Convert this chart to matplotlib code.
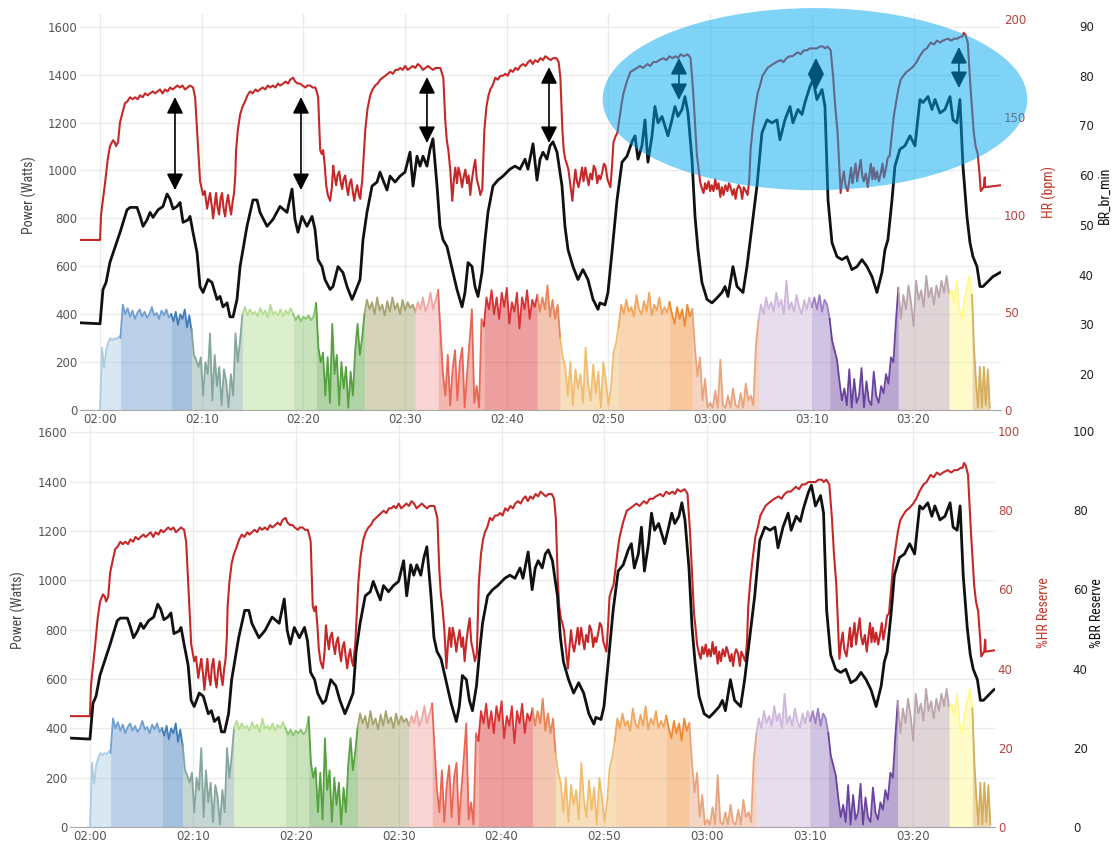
import numpy as np
import matplotlib
matplotlib.use("Agg")
import matplotlib.pyplot as plt
from matplotlib.patches import Ellipse
from matplotlib import font_manager

# ------------------------------------------------------------------ data
# time axis: minutes after 02:00
tick_minutes = [0, 10, 20, 30, 40, 50, 60, 70, 80]
tick_labels = ["02:00", "02:10", "02:20", "02:30", "02:40", "02:50", "03:00", "03:10", "03:20"]

# interval boundaries (minutes) for the coloured power segments
seg_bounds = [0.0, 2.0, 7.0, 9.0, 14.0, 19.0, 21.25, 26.0, 31.0, 33.25, 37.75, 43.0,
              45.25, 51.0, 56.0, 58.25, 64.75, 70.0, 71.75, 78.5, 83.5, 85.75, 87.5]
seg_colors = ["#a9cbe3", "#6b9bd0", "#3a77b5", "#7fa39a", "#b3dc8e", "#86c06a", "#4f9e38",
              "#a2a068", "#f0a3a0", "#e8604f", "#d9282a", "#e88050", "#f1ba68", "#f2a255",
              "#f08526", "#e8a078", "#cbb4d8", "#9a7ac2", "#643c9c", "#b8a2a8", "#fff98a",
              "#d4aa55"]

# power (W) per interval
p01 = [0, 260, 175, 250, 280, 300, 290, 300, 295, 305, 310]
p02 = [300, 440, 400, 425, 390, 415, 380, 405, 420, 390, 410, 385, 400, 430, 395, 405, 380,
       415, 395, 420, 385, 400]
p03 = [400, 370, 410, 355, 400, 380, 420, 345, 395, 330]
p04 = [340, 230, 210, 180, 220, 60, 200, 150, 320, 40, 230, 100, 180, 20, 170, 120, 10, 150,
       60, 320, 200, 290, 400]
p05 = [400, 430, 395, 420, 400, 410, 390, 425, 400, 415, 385, 440, 400, 410, 395, 420, 390,
       415, 400, 425, 400]
p06 = [400, 375, 395, 370, 390, 380, 395, 375, 390, 445]
p07 = [445, 260, 200, 240, 60, 220, 30, 360, 150, 230, 20, 200, 90, 180, 10, 160, 60, 250,
       360, 230, 300, 400]
p08 = [400, 460, 420, 450, 400, 470, 415, 440, 395, 455, 410, 470, 420, 445, 400, 460, 415,
       450, 425, 440, 410]
p09 = [410, 450, 420, 470, 410, 440, 490, 420, 460, 500]
p10 = [500, 320, 150, 60, 230, 20, 170, 250, 40, 200, 260, 10, 150, 280, 420, 30, 100, 10,
       380, 350]
p11 = [350, 470, 420, 500, 400, 470, 380, 490, 430, 510, 360, 450, 410, 490, 340, 470, 420,
       500, 380, 460, 430, 480]
p12 = [480, 410, 470, 420, 520, 390, 460, 380, 440, 300]
p13 = [300, 220, 180, 60, 200, 20, 170, 90, 150, 30, 260, 110, 40, 190, 70, 160, 10, 200,
       120, 20, 100, 240, 280, 350]
p14 = [350, 440, 400, 460, 410, 430, 390, 480, 420, 400, 455, 410, 490, 395, 440, 415, 470,
       400, 430, 405, 450]
p15 = [450, 400, 360, 430, 380, 420, 350, 440, 390, 420]
p16 = [420, 260, 140, 220, 40, 130, 10, 30, 10, 80, 10, 210, 20, 10, 60, 10, 90, 20, 10, 70,
       10, 110, 40, 60, 20, 270, 375]
p17 = [375, 440, 400, 470, 420, 450, 410, 490, 430, 460, 400, 540, 420, 450, 410, 480, 430,
       400, 460, 420, 470, 430]
p18 = [430, 470, 420, 480, 410, 460, 440, 380]
p19 = [380, 290, 250, 210, 120, 40, 90, 20, 170, 10, 130, 30, 60, 175, 10, 120, 40, 20, 160,
       60, 30, 100, 70, 150, 110, 220, 200, 365, 510]
p20 = [510, 380, 480, 420, 520, 450, 350, 540, 460, 500, 430, 560, 470, 510, 440, 520, 470,
       540, 490, 560, 480]
p21 = [480, 500, 450, 540, 420, 380, 460, 510, 560, 480]
p22 = [480, 260, 120, 10, 180, 10, 180, 20, 170, 10]
power_intervals = [p01, p02, p03, p04, p05, p06, p07, p08, p09, p10, p11, p12, p13, p14,
                   p15, p16, p17, p18, p19, p20, p21, p22]

# heart rate (bpm)
hr_t = [-1.97, 0.0, 0.1, 0.49, 0.75, 0.98, 1.27, 1.45, 1.57, 1.77, 1.96, 2.2, 2.46, 2.7, 2.95,
        3.2, 3.44, 3.7, 3.93, 4.2, 4.42, 4.7, 4.92, 5.2, 5.41, 5.65, 5.9, 6.15, 6.39, 6.65,
        6.89, 7.15, 7.38, 7.6, 7.87, 8.1, 8.36, 8.6, 8.85, 9.15, 9.35, 9.54, 9.7, 9.84, 10.13,
        10.3, 10.53, 10.7, 10.82, 11.0, 11.12, 11.3, 11.41, 11.55, 11.71, 11.85, 12.0, 12.15,
        12.3, 12.45, 12.59, 12.75, 12.89, 13.05, 13.18, 13.3, 13.38, 13.55, 13.77, 14.0, 14.27,
        14.5, 14.76, 15.0, 15.3, 15.5, 15.74, 16.0, 16.25, 16.5, 16.73, 17.0, 17.25, 17.5,
        17.71, 18.0, 18.25, 18.5, 18.7, 18.99, 19.2, 19.45, 19.68, 19.9, 20.2, 20.4, 20.66,
        20.9, 21.16, 21.3, 21.45, 21.65, 21.8, 21.94, 22.1, 22.24, 22.4, 22.63, 22.8, 22.93,
        23.05, 23.22, 23.35, 23.52, 23.65, 23.81, 23.95, 24.11, 24.25, 24.4, 24.55, 24.7,
        24.85, 25.0, 25.15, 25.29, 25.45, 25.59, 25.7, 25.78, 26.08, 26.3, 26.57, 26.8, 27.06,
        27.3, 27.55, 27.8, 28.05, 28.3, 28.54, 28.8, 29.05, 29.3, 29.52, 29.75, 30.0, 30.25,
        30.51, 30.75, 31.0, 31.25, 31.49, 31.75, 32.0, 32.25, 32.48, 32.75, 33.0, 33.25, 33.46,
        33.76, 33.95, 34.1, 34.25, 34.44, 34.64, 34.8, 34.94, 35.1, 35.25, 35.43, 35.6, 35.75,
        35.92, 36.1, 36.25, 36.41, 36.55, 36.75, 36.9, 37.05, 37.25, 37.4, 37.59, 37.79, 38.0,
        38.2, 38.38, 38.6, 38.87, 39.1, 39.37, 39.6, 39.85, 40.1, 40.35, 40.6, 40.85, 41.1,
        41.33, 41.6, 41.85, 42.1, 42.32, 42.55, 42.8, 43.05, 43.3, 43.55, 43.79, 44.05, 44.3,
        44.55, 44.88, 45.1, 45.27, 45.47, 45.6, 45.76, 45.9, 46.06, 46.25, 46.45, 46.6, 46.75,
        46.9, 47.05, 47.24, 47.4, 47.55, 47.73, 47.9, 48.05, 48.22, 48.4, 48.55, 48.72, 48.9,
        49.05, 49.21, 49.4, 49.55, 49.7, 49.9, 50.05, 50.19, 50.35, 50.49, 50.7, 50.88, 51.1,
        51.3, 51.47, 51.8, 52.16, 52.5, 52.8, 53.1, 53.4, 53.83, 54.1, 54.4, 54.7, 55.0, 55.41,
        55.7, 56.0, 56.3, 56.6, 56.85, 57.08, 57.4, 57.77, 57.95, 58.07, 58.3, 58.56, 58.7,
        58.85, 59.0, 59.2, 59.35, 59.5, 59.65, 59.84, 60.0, 60.15, 60.33, 60.5, 60.65, 60.82,
        61.0, 61.15, 61.31, 61.5, 61.7, 61.85, 62.0, 62.2, 62.35, 62.5, 62.65, 62.8, 62.99,
        63.15, 63.3, 63.5, 63.68, 63.85, 63.97, 64.2, 64.4, 64.66, 64.9, 65.15, 65.4, 65.64,
        65.9, 66.2, 66.5, 66.92, 67.2, 67.5, 67.8, 68.1, 68.35, 68.6, 68.9, 69.2, 69.5, 69.8,
        70.17, 70.5, 70.8, 71.1, 71.3, 71.55, 71.85, 72.1, 72.3, 72.53, 72.7, 72.83, 73.0,
        73.15, 73.3, 73.52, 73.7, 73.85, 74.0, 74.11, 74.3, 74.45, 74.6, 74.8, 74.95, 75.1,
        75.3, 75.49, 75.65, 75.8, 75.95, 76.08, 76.25, 76.4, 76.6, 76.77, 76.95, 77.1, 77.3,
        77.46, 77.65, 77.85, 78.05, 78.3, 78.5, 78.74, 79.0, 79.3, 79.6, 80.01, 80.3, 80.6,
        81.0, 81.3, 81.69, 82.0, 82.3, 82.6, 82.9, 83.36, 83.7, 84.0, 84.3, 84.64, 84.8, 84.94,
        85.1, 85.33, 85.6, 85.92, 86.1, 86.31, 86.5, 86.61, 86.75, 86.9, 87.0, 87.05, 88.6]
hr_bpm = [87, 87, 100, 116, 128, 135, 138, 137, 135, 137, 147, 152, 157, 158, 160,
          159, 160, 159, 161, 160, 162, 161, 162, 163, 162, 163, 164, 162, 164, 163,
          165, 164, 165, 166, 165, 166, 164, 165, 166, 165, 160, 143, 128, 117, 110,
          112, 103, 108, 111, 104, 98, 106, 111, 104, 100, 108, 111, 103,
          99, 106, 110, 104, 100, 107, 111, 120, 133, 143, 151, 155, 158,
          161, 163, 162, 164, 163, 164, 165, 164, 166, 165, 166, 165, 167,
          166, 167, 168, 167, 169, 170, 168, 167, 167, 166, 165, 166, 166,
          165, 165, 163, 160, 133, 131, 133, 125, 115, 110, 107, 114, 125,
          120, 115, 120, 122, 117, 113, 118, 120, 114, 110, 116, 118,
          112, 107, 112, 115, 110, 108, 114, 117, 143, 154, 161, 164, 166,
          167, 169, 170, 171, 172, 173, 172, 174, 174, 175, 174, 176, 174,
          175, 176, 175, 177, 176, 174, 175, 176, 175, 174, 175, 175, 175,
          170, 148, 138, 133, 123, 107, 118, 124, 116, 124, 120, 114, 119,
          123, 116, 120, 110, 117, 124, 128, 118, 114, 110, 113, 143, 155,
          161, 164, 166, 170, 169, 171, 171, 172, 171, 174, 173, 175, 174,
          176, 177, 176, 178, 179, 177, 179, 178, 180, 179, 181, 180, 179,
          180, 180, 178, 170, 143, 133, 128, 126, 123, 115, 107, 116, 123,
          117, 114, 119, 124, 117, 124, 119, 115, 121, 118, 125, 123, 116,
          120, 118, 122, 126, 125, 118, 116, 114, 125, 137, 140, 142, 150,
          157, 162, 168, 173, 174, 175, 176, 175, 177, 176, 178, 178, 179, 180,
          179, 181, 180, 181, 180, 182, 181, 182, 181, 180, 165, 142, 130,
          124, 117, 113, 111, 116, 113, 117, 112, 115, 112, 118, 113, 116,
          109, 114, 110, 115, 112, 116, 114, 110, 113, 108, 113, 115, 113,
          108, 114, 112, 110, 118, 133, 145, 153, 162, 166, 171, 173, 175,
          176, 177, 178, 179, 178, 180, 181, 181, 182, 183, 182, 184, 184, 185,
          185, 185, 186, 186, 185, 186, 184, 170, 155, 142, 125, 111, 118,
          122, 115, 112, 118, 124, 116, 120, 126, 117, 122, 128, 120, 117,
          121, 114, 120, 126, 118, 124, 118, 122, 117, 121, 126, 119, 124,
          129, 130, 140, 150, 158, 164, 169, 171, 173, 174, 176, 178, 181,
          184, 185, 188, 187, 189, 188, 189, 190, 189, 190, 190, 191, 191, 193,
          192, 188, 165, 142, 135, 131, 120, 112, 113, 114, 119, 114, 115]

# breathing rate (breaths/min)
br_t = [-1.97, 0.0, 0.29, 0.59, 0.98, 1.47, 1.97, 2.65, 2.95, 3.64, 3.93, 4.23, 4.62, 4.92,
        5.21, 5.70, 6.19, 6.59, 6.88, 7.18, 7.57, 7.87, 8.16, 8.65, 8.85, 9.14, 9.54, 9.83,
        10.13, 10.62, 11.01, 11.50, 11.80, 12.09, 12.49, 12.78, 13.08, 13.47, 13.77, 14.45,
        15.04, 15.44, 15.73, 16.42, 17.01, 17.70, 18.39, 18.88, 19.17, 19.47, 19.86, 20.35,
        20.85, 21.14, 21.44, 21.83, 22.12, 22.62, 22.91, 23.40, 23.89, 24.29, 24.78, 25.07,
        25.57, 25.86, 26.25, 26.75, 27.24, 27.53, 27.83, 28.22, 28.52, 29.01, 29.50, 29.99,
        30.48, 30.78, 31.17, 31.47, 31.76, 32.15, 32.45, 32.74, 33.14, 33.43, 33.73, 34.12,
        34.42, 34.71, 35.10, 35.60, 35.89, 36.19, 36.58, 36.87, 37.17, 37.56, 37.86, 38.15,
        38.64, 39.13, 39.63, 40.31, 40.81, 41.30, 41.79, 42.08, 42.58, 42.97, 43.27, 43.56,
        43.95, 44.25, 44.54, 44.94, 45.43, 45.72, 46.02, 46.51, 47.00, 47.49, 47.98, 48.48,
        48.97, 49.16, 49.66, 49.95, 50.34, 50.84, 51.33, 51.82, 52.31, 52.61, 52.90, 53.29,
        53.59, 53.88, 54.28, 54.57, 54.87, 55.26, 55.56, 55.85, 56.24, 56.54, 56.83, 57.23,
        57.52, 57.82, 58.21, 58.51, 58.80, 59.19, 59.69, 60.18, 60.67, 61.16, 61.46, 61.75,
        62.24, 62.64, 62.93, 63.23, 63.62, 64.11, 64.60, 65.09, 65.59, 66.08, 66.57, 66.86,
        67.35, 67.85, 68.14, 68.63, 69.03, 69.32, 69.81, 70.11, 70.50, 71.00, 71.29, 71.59,
        71.98, 72.47, 72.96, 73.45, 73.94, 74.44, 74.93, 75.42, 75.91, 76.40, 76.89, 77.19,
        77.48, 77.88, 78.17, 78.66, 79.15, 79.65, 80.14, 80.63, 80.93, 81.42, 81.81, 82.11,
        82.60, 83.09, 83.58, 83.88, 84.27, 84.56, 84.86, 85.25, 85.55, 85.84, 86.24, 86.53,
        86.83, 87.81, 88.50]
br_rate = [30.3, 30.1, 37, 38.4, 42.5, 45.5, 48.5, 53, 53.5, 53.5, 51.8, 49.7, 51, 52.5,
           51.5, 53, 53.7, 56.2, 55.2, 53.2, 53.7, 54.5, 50.5, 51, 51.7, 48.5, 44.4, 37.6,
           36.4, 39, 38.4, 35, 35.6, 33.5, 34.3, 31.5, 31.5, 35, 41.6, 49.7,
           55, 55, 52.5, 49.7, 51.1, 53.7, 52.5, 57.2, 51.1, 48.5, 51.7, 49.7,
           51.7, 49.1, 43, 41.6, 39, 37, 37.6, 41.6, 40.4, 37.6, 35, 36.4,
           39, 47, 52.5, 57.8, 58.6, 60.6, 59, 57, 59.8, 58.6, 59.8, 60.6,
           64.6, 57.8, 63.8, 61.8, 63.8, 61.8, 65.2, 67.3, 57.8, 49.7, 47, 45.6,
           43, 40.4, 37, 33.5, 36.4, 42.4, 41.6, 37.6, 35.6, 40.4, 47, 52.5,
           57.8, 59, 59.8, 61.2, 61.8, 61.2, 63.2, 61.2, 66.3, 59, 63.2, 64.6,
           63.2, 65.9, 66.7, 64.6, 57.8, 49.7, 45, 41.6, 39, 41, 39, 35,
           33, 34.3, 33.9, 36.4, 44.4, 55, 62.6, 63.8, 66.7, 67.9, 63.2, 65.9,
           71.1, 62.6, 67.9, 73.8, 70.5, 71.8, 69.8, 67.9, 71.1, 73.8, 71.8, 73.2,
           75.8, 72.5, 63.2, 51.7, 45, 38.4, 35, 34.3, 35.3, 36.4, 37.6, 35.6,
           41.6, 37.6, 37, 36.4, 41.6, 49.7, 57.8, 68.5, 71.1, 70.5, 71.1, 67.1,
           71.1, 73.8, 70.5, 73.2, 72.2, 74.6, 77.8, 79.2, 75.2, 77.2, 73.8, 55,
           46.4, 43.6, 43, 43.6, 41, 41.6, 43, 41.6, 39.6, 36.4, 40.4, 45,
           47, 55, 61.8, 65.2, 65.9, 67.9, 65.9, 75.2, 74.6, 75.8, 73.2, 75.2,
           72.5, 73.2, 75.8, 71.1, 70.5, 75.2, 61.8, 51.7, 46.4, 43.6, 41.6, 37.6,
           37.6, 39.6, 40.4]

# reserve reference values used for the lower panel
HR_REST, HR_MAX = 40.6, 206.4
BR_REST, BR_MAX = 13.1, 89.7

# annotations (top panel): double arrows in (minute, bpm) and highlight ellipse
arrow_t = [7.37, 19.76, 32.15, 44.15, 56.93, 70.4, 84.46]
arrow_hr_top = [160.1, 160.1, 170.3, 175.4, 180.1, 180.1, 185.7]
arrow_hr_bot = [112.5, 112.5, 136.6, 136.6, 158.6, 163.7, 164.7]
ELLIPSE = dict(cx=0.798, cy=0.785, w=0.461, h=0.46)

# ------------------------------------------------------------------ style
names = {f.name for f in font_manager.fontManager.ttflist}
NARROW_FAMILY = None
for cand in ["Liberation Sans Narrow", "DejaVu Sans Condensed", "Roboto Condensed",
             "Noto Sans Condensed"]:
    if cand in names:
        NARROW_FAMILY = cand
        break
if NARROW_FAMILY is None:
    LABEL_FONT = dict(family="Liberation Sans", fontsize=9, fontweight="normal")
else:
    LABEL_FONT = dict(family=NARROW_FAMILY, fontsize=10, fontweight="normal")
plt.rcParams["font.family"] = ["DejaVu Sans"]

RED = "#c62828"
RED_TXT = "#b5443f"
GRAY_TXT = "#555555"
GRID = "#ebebeb"

W, H = 1113, 841
fig = plt.figure(figsize=(W / 100, H / 100), dpi=100)


def fx(px):
    return px / W


def fy(py):
    return 1 - py / H


def panel(rect, xlim, plim, hr_vals, hr_lim, hr_ticks, br_vals, br_lim, br_ticks):
    ax = fig.add_axes(rect)
    ax.set_xlim(*xlim)
    ax.set_ylim(*plim)
    for s in ax.spines.values():
        s.set_visible(False)
    ax.spines["bottom"].set_visible(True)
    ax.spines["bottom"].set_color("#a8a8a8")
    ax.set_xticks(tick_minutes)
    ax.set_xticklabels(tick_labels)
    ax.set_yticks(range(0, 1601, 200))
    ax.tick_params(axis="both", length=0, labelsize=8.5, labelcolor=GRAY_TXT)
    ax.tick_params(axis="x", pad=2)
    ax.tick_params(axis="y", pad=2)
    ax.grid(True, color=GRID, lw=1)
    ax.set_axisbelow(True)

    for i, vals in enumerate(power_intervals):
        t = np.linspace(seg_bounds[i], seg_bounds[i + 1], len(vals))
        ax.fill_between(t, 0, vals, color=seg_colors[i], alpha=0.45, lw=0, zorder=2)
        ax.plot(t, vals, color=seg_colors[i], lw=1.3, alpha=0.95, zorder=3)

    ax2 = ax.twinx()
    ax2.set_ylim(*hr_lim)
    ax2.set_yticks(hr_ticks)
    for s in ax2.spines.values():
        s.set_visible(False)
    ax2.tick_params(axis="y", length=0, labelsize=8.5, labelcolor=RED_TXT, pad=2)
    ax2.plot(hr_t, hr_vals, color=RED, lw=1.5, zorder=3)

    ax3 = ax.twinx()
    ax3.set_ylim(*br_lim)
    ax3.set_yticks(br_ticks)
    for s in ax3.spines.values():
        s.set_visible(False)
    ax3.spines["right"].set_position(("outward", 52))
    ax3.tick_params(axis="y", length=0, labelsize=8.5, labelcolor="#222222", pad=4)
    ax3.plot(br_t, br_vals, color="#111111", lw=2.0, zorder=3)
    return ax, ax2, ax3


# ---- top panel
top_rect = [fx(80), fy(410), fx(1001) - fx(80), fy(14) - fy(410)]
ax, ax2, ax3 = panel(top_rect, (-1.97, 88.6), (0, 1653), hr_bpm, (0, 202.6),
                     [0, 50, 100, 150, 200], br_rate, (12.76, 92.4),
                     [20, 30, 40, 50, 60, 70, 80, 90])

for t, a, b in zip(arrow_t, arrow_hr_top, arrow_hr_bot):
    ax3.annotate("", xy=(t, a), xytext=(t, b), xycoords=ax2.transData,
                 textcoords=ax2.transData,
                 arrowprops=dict(arrowstyle="<|-|>,head_length=0.5,head_width=0.25",
                                 mutation_scale=20, lw=1.2, color="black",
                                 shrinkA=0, shrinkB=0), zorder=5)
ax3.add_patch(Ellipse((ELLIPSE["cx"], ELLIPSE["cy"]), ELLIPSE["w"], ELLIPSE["h"],
                      transform=ax3.transAxes, facecolor="#00a8ee", alpha=0.5, lw=0,
                      clip_on=False, zorder=6))

fig.text(fx(29), fy(195), "Power (Watts)", rotation=90, ha="center", va="center",
         color="#444444", **LABEL_FONT)
fig.text(fx(1049), fy(192), "HR (bpm)", rotation=90, ha="center", va="center",
         color="#c0392b", **LABEL_FONT)
fig.text(fx(1105), fy(195), "BR_br_min", rotation=90, ha="center", va="center",
         color="#111111", **LABEL_FONT)

# ---- bottom panel
hr_reserve = (np.array(hr_bpm) - HR_REST) / (HR_MAX - HR_REST) * 100
br_reserve = (np.array(br_rate) - BR_REST) / (BR_MAX - BR_REST) * 100
bot_rect = [fx(70), fy(827), fx(995) - fx(70), fy(425) - fy(827)]
bx, bx2, bx3 = panel(bot_rect, (-1.94, 87.95), (0, 1629), hr_reserve, (0, 101.5),
                     [0, 20, 40, 60, 80, 100], br_reserve, (0, 101.5),
                     [0, 20, 40, 60, 80, 100])

fig.text(fx(18), fy(610), "Power (Watts)", rotation=90, ha="center", va="center",
         color="#444444", **LABEL_FONT)
fig.text(fx(1044), fy(613), "%HR Reserve", rotation=90, ha="center", va="center",
         color="#c0392b", **LABEL_FONT)
fig.text(fx(1097), fy(613), "%BR Reserve", rotation=90, ha="center", va="center",
         color="#111111", **LABEL_FONT)

fig.savefig("out.png", dpi=100)
